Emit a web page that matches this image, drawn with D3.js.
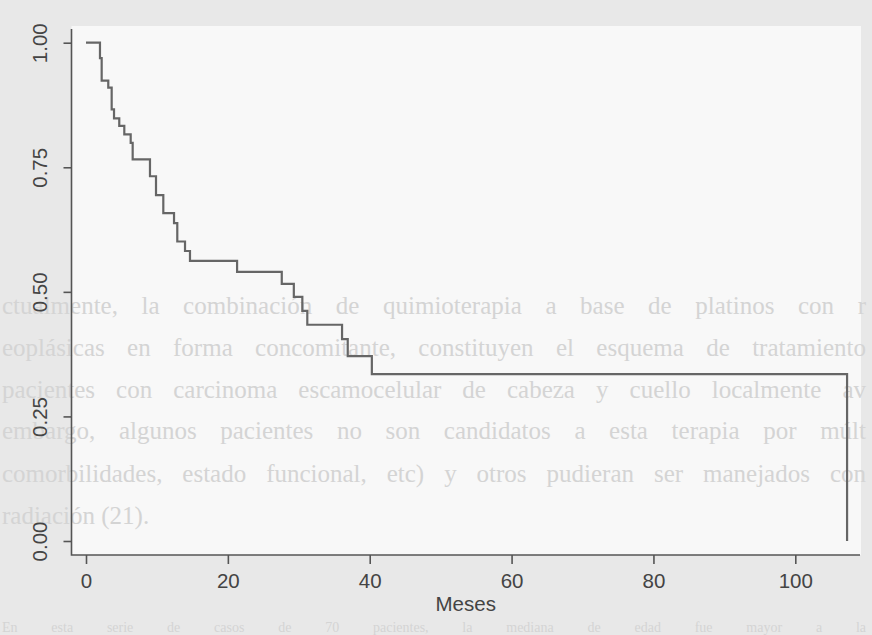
<!DOCTYPE html>
<html lang="es">
<head>
<meta charset="UTF-8">
<title>Supervivencia</title>
<script src="https://cdn.jsdelivr.net/npm/d3@7/dist/d3.min.js"></script>
<style>
  body { margin: 0; background: #e8e8e8; }
  text { font-family: "Liberation Sans", Arial, sans-serif; }
  .ghost { font-family: "Liberation Serif", "Times New Roman", serif; fill: #d4d4d4; }
</style>
</head>
<body>
<div id="chart"></div>
<script>
  const width = 872;
  const height = 635;

  // Kaplan-Meier steps (months, survival after the drop)
  const meses = [0, 1.97, 2.21, 3.14, 3.62, 3.95, 4.69, 5.40, 6.30, 6.58, 9.02, 9.87, 10.9,
                 12.41, 12.87, 13.96, 14.66, 21.3, 27.6, 29.3, 30.5, 31.2, 36.1, 36.9, 40.3, 107.3];
  const supervivencia = [1, 0.969, 0.924, 0.910, 0.866, 0.848, 0.833, 0.816, 0.799, 0.766, 0.732,
                 0.694, 0.658, 0.638, 0.601, 0.582, 0.562, 0.540, 0.516, 0.490, 0.462, 0.434,
                 0.405, 0.371, 0.335, 0];
  const xTicks = [0, 20, 40, 60, 80, 100];
  const yTicks = [0, 0.25, 0.5, 0.75, 1];

  // bleed-through text of the scanned page
  const ghostLines = [
    {y: 314, s: 25, t: "ctualmente, la combinación de quimioterapia a base de platinos con r", j: true},
    {y: 356, s: 25, t: "eoplásicas en forma concomitante, constituyen el esquema de tratamiento", j: true},
    {y: 398, s: 25, t: "pacientes con carcinoma escamocelular de cabeza y cuello localmente av", j: true},
    {y: 439, s: 25, t: "embargo, algunos pacientes no son candidatos a esta terapia por múlt", j: true},
    {y: 482, s: 25, t: "comorbilidades, estado funcional, etc) y otros pudieran ser manejados con", j: true},
    {y: 524, s: 25, t: "radiación (21).", j: false},
    {y: 632, s: 14, t: "En esta serie de casos de 70 pacientes, la mediana de edad fue mayor a la", j: true}
  ];

  const svg = d3.select("#chart").append("svg")
      .attr("width", width)
      .attr("height", height);

  svg.append("rect").attr("width", width).attr("height", height).attr("fill", "#e8e8e8");

  const plotLeft = 71.5, plotRight = 860, plotTop = 29, plotBottom = 555;

  svg.append("rect")
      .attr("x", plotLeft).attr("y", 26)
      .attr("width", 861 - plotLeft).attr("height", plotBottom - 26)
      .attr("fill", "#f8f8f8");

  // justify the ghost lines with word spacing, kept inside the page
  const targetW = 864;
  svg.selectAll("text.ghost").data(ghostLines).enter()
      .append("text")
      .attr("class", "ghost")
      .attr("x", 2)
      .attr("y", d => d.y)
      .attr("font-size", d => d.s)
      .text(d => d.t)
      .each(function (d) {
        if (!d.j) return;
        const w = this.getComputedTextLength();
        const gaps = d.t.split(" ").length - 1;
        const extra = (targetW - w) / gaps;
        d3.select(this).attr("word-spacing", Math.max(0, extra));
      });

  const x = d3.scaleLinear().domain([0, 100]).range([86, 795.3]);
  const y = d3.scaleLinear().domain([0, 1]).range([541, 42.7]);

  const axisColor = "#555";

  // L-shaped box
  svg.append("path")
      .attr("d", `M${plotLeft},${plotTop}V${plotBottom}H${plotRight}`)
      .attr("fill", "none")
      .attr("stroke", axisColor)
      .attr("stroke-width", 1.6);

  const yAxis = svg.append("g")
      .attr("transform", `translate(${plotLeft},0)`)
      .call(d3.axisLeft(y).tickValues(yTicks).tickSize(8).tickFormat(d3.format(".2f")));
  yAxis.select(".domain").remove();
  yAxis.selectAll(".tick line").attr("stroke", axisColor).attr("stroke-width", 1.6);
  yAxis.selectAll(".tick text")
      .attr("x", null).attr("dy", null)
      .attr("transform", "translate(-25,0) rotate(-90)")
      .attr("text-anchor", "middle")
      .attr("fill", "#444")
      .attr("font-size", 20.5)
      .attr("font-family", "Liberation Sans, Arial, sans-serif");

  const xAxis = svg.append("g")
      .attr("transform", `translate(0,${plotBottom})`)
      .call(d3.axisBottom(x).tickValues(xTicks).tickSize(9).tickFormat(d3.format("d")));
  xAxis.select(".domain").remove();
  xAxis.selectAll(".tick line").attr("stroke", axisColor).attr("stroke-width", 1.6);
  xAxis.selectAll(".tick text")
      .attr("y", 33).attr("dy", null)
      .attr("fill", "#444")
      .attr("font-size", 20.5)
      .attr("font-family", "Liberation Sans, Arial, sans-serif");

  svg.append("text")
      .attr("x", (plotLeft + plotRight) / 2)
      .attr("y", 611)
      .attr("text-anchor", "middle")
      .attr("fill", "#444")
      .attr("font-size", 20.5)
      .text("Meses");

  const line = d3.line()
      .x(d => x(d[0]))
      .y(d => y(d[1]))
      .curve(d3.curveStepAfter);

  svg.append("path")
      .datum(meses.map((m, i) => [m, supervivencia[i]]))
      .attr("d", line)
      .attr("fill", "none")
      .attr("stroke", "#666")
      .attr("stroke-width", 2.2);
</script>
</body>
</html>
